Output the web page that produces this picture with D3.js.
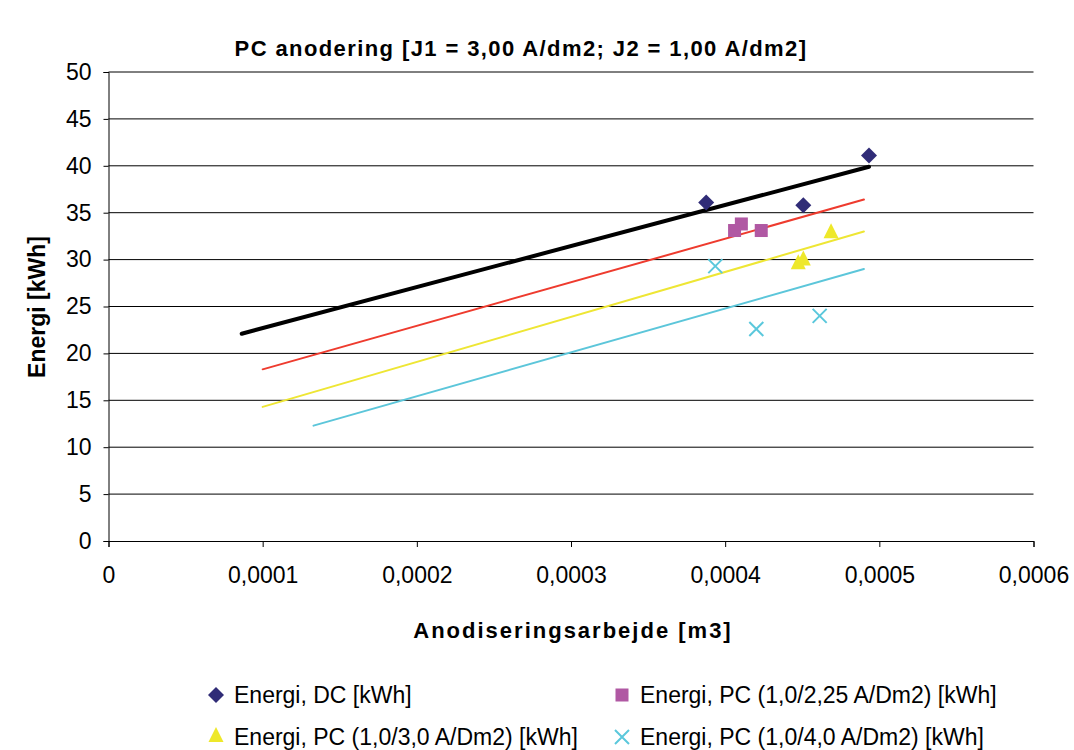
<!DOCTYPE html>
<html>
<head>
<meta charset="utf-8">
<script src="https://cdn.jsdelivr.net/npm/d3@7"></script>
<style>
  body { margin: 0; background: #fff; }
  svg { font-family: "Liberation Sans", Arial, sans-serif; }
</style>
</head>
<body>
<div id="chart"></div>
<script>
// values
const xTicks = [0, 0.0001, 0.0002, 0.0003, 0.0004, 0.0005, 0.0006];
const yTicks = [0, 5, 10, 15, 20, 25, 30, 35, 40, 45, 50];

const dcX = [0.0003877, 0.0004507, 0.0004933];
const dcY = [36.1, 35.8, 41.1];
const pc225X = [0.0004061, 0.0004105, 0.0004234];
const pc225Y = [33.1, 33.8, 33.1];
const pc30X = [0.0004474, 0.0004507, 0.0004687];
const pc30Y = [29.5, 29.9, 32.8];
const pc40X = [0.0003936, 0.0004202, 0.0004613];
const pc40Y = [29.3, 22.6, 24.0];

// trend lines (end points)
const trendDcX = [0.0000864, 0.0004933];
const trendDcY = [22.1, 39.9];
const trend225X = [0.0001, 0.00049];
const trend225Y = [18.3, 36.4];
const trend30X = [0.0001, 0.00049];
const trend30Y = [14.3, 33.0];
const trend40X = [0.000133, 0.00049];
const trend40Y = [12.3, 29.0];

const legendNames = [
  "Energi, DC [kWh]",
  "Energi, PC (1,0/2,25 A/Dm2) [kWh]",
  "Energi, PC (1,0/3,0 A/Dm2) [kWh]",
  "Energi, PC (1,0/4,0 A/Dm2) [kWh]"
];

const W = 1074, H = 750;
const m = { left: 108.5, right: 1033.5, top: 72, bottom: 541 };

const svg = d3.select("#chart").append("svg")
  .attr("width", W).attr("height", H);

const x = d3.scaleLinear().domain([0, 0.0006]).range([m.left, m.right]);
const y = d3.scaleLinear().domain([0, 50]).range([m.bottom, m.top]);

const fmt = d => d === 0 ? "0" : d3.format(".4f")(d).replace(".", ",");

// gridlines
svg.append("g")
  .selectAll("line")
  .data(yTicks.filter(d => d > 0))
  .enter().append("line")
  .attr("x1", m.left).attr("x2", m.right)
  .attr("y1", d => y(d)).attr("y2", d => y(d))
  .style("stroke", "#000").style("stroke-width", 1);

// axes
const yAxis = svg.append("g")
  .attr("transform", `translate(${m.left},0)`)
  .call(d3.axisLeft(y).tickValues(yTicks).tickSize(5).tickPadding(12));
const xAxis = svg.append("g")
  .attr("transform", `translate(0,${m.bottom})`)
  .call(d3.axisBottom(x).tickValues(xTicks).tickFormat(fmt).tickSize(6).tickPadding(20));

[xAxis, yAxis].forEach(a => {
  a.select(".domain").style("stroke", "#000");
  a.selectAll(".tick line").style("stroke", "#000");
  a.selectAll("text")
    .style("font-family", "'Liberation Sans', Arial, sans-serif")
    .style("font-size", "23px")
    .style("fill", "#000");
});

// trend lines
const line = d3.line().x(d => x(d[0])).y(d => y(d[1]));
const trends = [
  { xs: trendDcX, ys: trendDcY, color: "#000", w: 4 },
  { xs: trend225X, ys: trend225Y, color: "#EE3B2E", w: 2 },
  { xs: trend30X, ys: trend30Y, color: "#EEE634", w: 2 },
  { xs: trend40X, ys: trend40Y, color: "#5CC6DA", w: 2 }
];
trends.forEach(t => {
  svg.append("path")
    .datum(t.xs.map((v, i) => [v, t.ys[i]]))
    .attr("d", line)
    .style("fill", "none")
    .style("stroke", t.color)
    .style("stroke-width", t.w)
    .style("stroke-linecap", "round");
});

// markers
const navy = "#302C77", pink = "#B058A3", yellow = "#EEE82A", cyan = "#5BC8DC";

function drawMarker(g, kind, cx, cy) {
  if (kind === "diamond") {
    g.append("path")
      .attr("d", `M${cx},${cy - 8}L${cx + 8},${cy}L${cx},${cy + 8}L${cx - 8},${cy}Z`)
      .style("fill", navy);
  } else if (kind === "square") {
    g.append("rect")
      .attr("x", cx - 6.5).attr("y", cy - 6.5)
      .attr("width", 13).attr("height", 13)
      .style("fill", pink);
  } else if (kind === "triangle") {
    g.append("path")
      .attr("d", `M${cx},${cy - 10}L${cx + 7.5},${cy + 5}L${cx - 7.5},${cy + 5}Z`)
      .style("fill", yellow);
  } else {
    g.append("path")
      .attr("d", `M${cx - 7},${cy - 7}L${cx + 7},${cy + 7}M${cx + 7},${cy - 7}L${cx - 7},${cy + 7}`)
      .style("stroke", cyan).style("stroke-width", 2).style("fill", "none");
  }
}

const series = [
  { xs: dcX, ys: dcY, kind: "diamond" },
  { xs: pc225X, ys: pc225Y, kind: "square" },
  { xs: pc30X, ys: pc30Y, kind: "triangle" },
  { xs: pc40X, ys: pc40Y, kind: "cross" }
];
const pts = svg.append("g");
series.forEach(s => {
  s.xs.forEach((v, i) => drawMarker(pts, s.kind, x(v), y(s.ys[i])));
});

// title
svg.append("text")
  .attr("x", 521).attr("y", 56)
  .attr("text-anchor", "middle")
  .style("font-size", "22px").style("font-weight", "bold")
  .style("letter-spacing", "1.4px")
  .text("PC anodering [J1 = 3,00 A/dm2; J2 = 1,00 A/dm2]");

// axis titles
svg.append("text")
  .attr("x", 573).attr("y", 638)
  .attr("text-anchor", "middle")
  .style("font-size", "22px").style("font-weight", "bold")
  .style("letter-spacing", "2px")
  .text("Anodiseringsarbejde [m3]");

svg.append("text")
  .attr("transform", "translate(45,307) rotate(-90)")
  .attr("text-anchor", "middle")
  .style("font-size", "23px").style("font-weight", "bold")
  .text("Energi [kWh]");

// legend
const legendPos = [[216, 695], [622, 695], [216, 737], [622, 737]];
const lg = svg.append("g");
series.forEach((s, i) => {
  const [lx, ly] = legendPos[i];
  drawMarker(lg, s.kind, lx, ly);
  lg.append("text")
    .attr("x", lx + 18).attr("y", ly + 8)
    .style("font-size", "23px")
    .text(legendNames[i]);
});
</script>
</body>
</html>
